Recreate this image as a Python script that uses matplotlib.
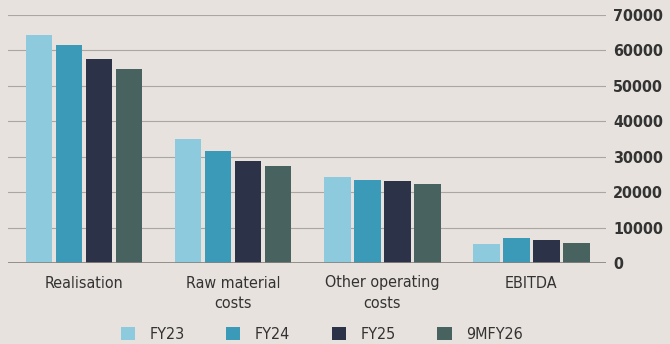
import numpy as np
import matplotlib.pyplot as plt

# Data (Rs crore, approx.)
categories = ['Realisation', 'Raw material\ncosts', 'Other operating\ncosts', 'EBITDA']
series_names = ['FY23', 'FY24', 'FY25', '9MFY26']
fy23 = [64400, 35000, 24300, 5400]
fy24 = [61600, 31600, 23400, 7100]
fy25 = [57600, 28800, 23200, 6500]
fy26_9m = [54800, 27400, 22300, 5600]
yticks = [0, 10000, 20000, 30000, 40000, 50000, 60000, 70000]

colors = ['#8dcade', '#3b9ab7', '#2c3248', '#47625f']
bg = '#e7e2dd'
txt = '#333333'

fig = plt.figure(figsize=(6.7, 3.44), dpi=100, facecolor=bg)
ax = fig.add_axes([8 / 670, 81 / 344, 598 / 670, 248 / 344], facecolor=bg)

x = np.arange(len(categories))
width = 0.178
step = 0.201
all_series = [fy23, fy24, fy25, fy26_9m]
for i, (vals, name) in enumerate(zip(all_series, series_names)):
    ax.bar(x + (i - 1.5) * step, vals, width, color=colors[i], label=name, zorder=3)

ax.set_xlim(-0.51, 3.50)
ax.set_ylim(0, 70000)
ax.set_yticks(yticks)
ax.yaxis.tick_right()
ax.set_yticklabels([str(v) for v in yticks], fontsize=11.5, fontweight='bold', color=txt,
                   fontstretch='condensed')
ax.tick_params(axis='y', length=0, pad=5)
ax.grid(axis='y', color='#aaa7a3', linewidth=0.8, zorder=0)
for s in ax.spines.values():
    s.set_visible(False)
ax.axhline(0, color='#85827e', linewidth=1.2, zorder=4)

ax.set_xticks(x)
ax.set_xticklabels(categories, fontsize=11.5, color=txt, linespacing=1.45, fontstretch='condensed')
ax.tick_params(axis='x', length=0, pad=9)

fig.legend(loc='lower center', bbox_to_anchor=(0.48, -0.035), ncol=4, frameon=False,
           handlelength=0.9, handleheight=0.9, columnspacing=2.6, handletextpad=0.9,
           prop={'size': 11.5, 'stretch': 'condensed'}, labelcolor=txt)

fig.savefig('out.png', dpi=100, facecolor=bg)
